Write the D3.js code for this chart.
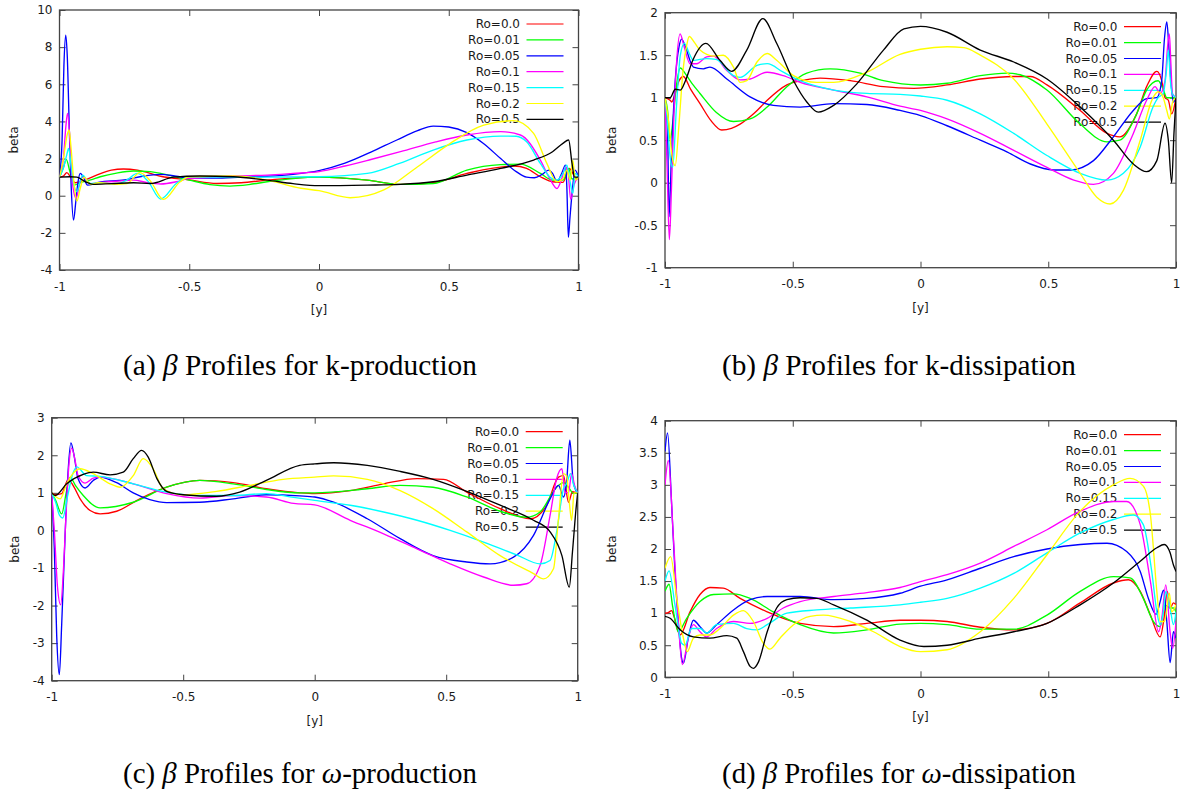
<!DOCTYPE html>
<html><head><meta charset="utf-8">
<script src="https://cdn.jsdelivr.net/npm/d3@7"></script>
<style>
body{margin:0;background:#fff;}
svg{display:block;}
</style></head>
<body>
<svg id="chart" width="1191" height="796"></svg>
<script>
// ---------------- DATA ----------------
const seriesLabels = ["Ro=0.0","Ro=0.01","Ro=0.05","Ro=0.1","Ro=0.15","Ro=0.2","Ro=0.5"];
const xTicks = [-1,-0.5,0,0.5,1];
const kProdYTicks = [-4,-2,0,2,4,6,8,10];
const kDissYTicks = [-1,-0.5,0,0.5,1,1.5,2];
const wProdYTicks = [-4,-3,-2,-1,0,1,2,3];
const wDissYTicks = [0,0.5,1,1.5,2,2.5,3,3.5,4];

// (a) k-production
const kProdRo00 = [[-1,1],[-0.985,1.05],[-0.972,1.24],[-0.957,1.0],[-0.94,0.7],[-0.9,0.85],[-0.85,1.15],[-0.8,1.38],[-0.754,1.44],[-0.7,1.38],[-0.61,1.05],[-0.5,0.85],[-0.394,0.66],[-0.3,0.7],[-0.2,0.84],[-0.1,0.95],[0,1.0],[0.186,0.84],[0.314,0.61],[0.44,0.7],[0.57,1.2],[0.75,1.6],[0.8,1.47],[0.853,1.02],[0.9,0.75],[0.94,0.72],[0.965,1.47],[0.978,1.2],[0.99,0.9],[1,1.0]];
const kProdRo01 = [[-1,1],[-0.985,1.5],[-0.974,1.96],[-0.96,1.3],[-0.944,0.57],[-0.92,0.7],[-0.88,0.85],[-0.843,1.02],[-0.78,1.22],[-0.715,1.33],[-0.65,1.3],[-0.61,1.2],[-0.5,0.84],[-0.42,0.6],[-0.343,0.52],[-0.27,0.6],[-0.2,0.75],[-0.1,0.92],[0,1.0],[0.186,0.84],[0.314,0.61],[0.44,0.66],[0.57,1.38],[0.7,1.67],[0.776,1.7],[0.853,1.2],[0.9,0.84],[0.94,0.84],[0.962,1.47],[0.975,0.9],[1,1]];
const kProdRo05 = [[-1,1],[-0.99,3.0],[-0.983,7.0],[-0.976,8.65],[-0.97,7.5],[-0.962,3.5],[-0.955,0.5],[-0.946,-1.31],[-0.937,-0.3],[-0.928,0.8],[-0.92,1.2],[-0.91,1.05],[-0.892,0.57],[-0.87,0.62],[-0.85,0.72],[-0.75,0.85],[-0.68,1.05],[-0.61,1.15],[-0.55,1.05],[-0.5,0.95],[-0.4,0.95],[-0.3,1.0],[-0.2,1.05],[-0.1,1.15],[0,1.35],[0.1,1.75],[0.2,2.35],[0.3,3.0],[0.38,3.5],[0.44,3.75],[0.5,3.7],[0.57,3.4],[0.635,2.8],[0.7,2.0],[0.76,1.3],[0.8,1.0],[0.83,0.97],[0.86,1.15],[0.885,1.38],[0.9,1.2],[0.917,0.75],[0.935,1.2],[0.95,1.65],[0.955,0.5],[0.961,-2.24],[0.967,-1.2],[0.974,-0.05],[0.987,1.38],[1,1]];
const kProdRo10 = [[-1,1],[-0.985,2.0],[-0.975,3.8],[-0.969,4.43],[-0.962,3.5],[-0.955,1.5],[-0.945,0.2],[-0.936,-0.14],[-0.925,0.5],[-0.914,1.0],[-0.9,0.9],[-0.88,0.65],[-0.85,0.7],[-0.78,0.78],[-0.715,0.84],[-0.66,0.7],[-0.61,0.63],[-0.55,0.75],[-0.5,0.93],[-0.4,1.0],[-0.33,1.06],[-0.2,1.11],[-0.1,1.2],[0,1.3],[0.1,1.6],[0.2,1.95],[0.314,2.37],[0.45,2.9],[0.57,3.27],[0.7,3.45],[0.776,3.27],[0.853,1.92],[0.89,0.9],[0.917,0.39],[0.935,0.9],[0.95,1.56],[0.96,1.2],[0.97,-0.2],[0.983,0.6],[1,1]];
const kProdRo15 = [[-1,1],[-0.985,1.5],[-0.972,2.2],[-0.965,2.55],[-0.955,1.6],[-0.945,0.6],[-0.933,0.22],[-0.92,0.8],[-0.91,1.1],[-0.895,0.85],[-0.88,0.65],[-0.85,0.7],[-0.78,0.63],[-0.74,0.85],[-0.7,1.2],[-0.66,0.8],[-0.61,-0.18],[-0.55,0.66],[-0.5,1.02],[-0.4,1.0],[-0.2,1.0],[0,1.02],[0.186,1.2],[0.31,1.74],[0.44,2.46],[0.57,3.0],[0.7,3.21],[0.76,3.2],[0.8,2.9],[0.853,1.74],[0.89,1.0],[0.917,0.84],[0.94,1.2],[0.955,1.65],[0.967,0.8],[0.978,0.13],[0.987,1.2],[1,1]];
const kProdRo20 = [[-1,1],[-0.985,2.0],[-0.97,3.3],[-0.963,3.54],[-0.955,2.5],[-0.945,0.8],[-0.933,-0.29],[-0.92,0.4],[-0.905,1.0],[-0.89,0.75],[-0.88,0.6],[-0.85,0.7],[-0.78,0.62],[-0.74,0.66],[-0.69,1.24],[-0.65,0.8],[-0.6,-0.2],[-0.535,0.75],[-0.5,1.02],[-0.33,1.06],[-0.2,0.84],[-0.07,0.4],[0,0.27],[0.12,-0.11],[0.25,0.31],[0.38,1.56],[0.506,2.82],[0.635,3.8],[0.75,4.04],[0.827,3.36],[0.878,1.74],[0.917,0.75],[0.94,0.9],[0.955,1.38],[0.968,0.84],[0.978,1.92],[0.988,0.84],[1,1]];
const kProdRo50 = [[-1,1],[-0.96,1.02],[-0.933,1.0],[-0.9,0.75],[-0.87,0.61],[-0.8,0.65],[-0.715,0.7],[-0.65,0.66],[-0.56,1.0],[-0.46,1.06],[-0.33,1.02],[-0.2,0.84],[-0.1,0.65],[0,0.54],[0.186,0.57],[0.314,0.61],[0.44,0.75],[0.57,1.11],[0.7,1.47],[0.827,1.92],[0.9,2.37],[0.94,2.82],[0.962,3.0],[0.975,1.74],[0.985,1.0],[1,1]];

// (b) k-dissipation
const kDissRo00 = [[-1,1],[-0.98,0.97],[-0.974,0.95],[-0.96,1.05],[-0.945,1.2],[-0.928,1.25],[-0.9,1.1],[-0.863,0.93],[-0.82,0.73],[-0.778,0.62],[-0.74,0.64],[-0.706,0.69],[-0.65,0.82],[-0.6,0.97],[-0.523,1.15],[-0.45,1.21],[-0.393,1.23],[-0.275,1.2],[-0.145,1.13],[-0.026,1.11],[0.104,1.15],[0.234,1.22],[0.365,1.25],[0.43,1.25],[0.495,1.15],[0.625,0.85],[0.73,0.58],[0.78,0.54],[0.846,0.81],[0.885,1.13],[0.925,1.31],[0.944,1.2],[0.957,1.0],[0.97,0.97],[0.983,0.81],[1,1]];
const kDissRo01 = [[-1,1],[-0.99,0.85],[-0.98,0.5],[-0.97,0.7],[-0.955,1.15],[-0.94,1.35],[-0.92,1.28],[-0.89,1.15],[-0.863,1.05],[-0.8,0.83],[-0.732,0.72],[-0.667,0.75],[-0.6,0.89],[-0.523,1.13],[-0.445,1.29],[-0.354,1.34],[-0.236,1.29],[-0.145,1.2],[0,1.15],[0.104,1.17],[0.234,1.26],[0.34,1.29],[0.39,1.27],[0.495,1.09],[0.625,0.69],[0.73,0.48],[0.78,0.5],[0.846,0.81],[0.885,1.09],[0.93,1.2],[0.95,1.1],[0.964,1.0],[0.983,1.0],[1,1]];
const kDissRo05 = [[-1,1],[-0.99,0.6],[-0.984,-0.4],[-0.975,0.3],[-0.96,1.2],[-0.945,1.6],[-0.935,1.69],[-0.92,1.6],[-0.9,1.42],[-0.889,1.36],[-0.85,1.34],[-0.824,1.36],[-0.758,1.22],[-0.667,1.01],[-0.576,0.91],[-0.471,0.89],[-0.34,0.93],[-0.21,0.92],[-0.08,0.85],[0,0.79],[0.104,0.67],[0.234,0.5],[0.34,0.36],[0.43,0.22],[0.52,0.15],[0.586,0.15],[0.677,0.26],[0.755,0.54],[0.833,0.85],[0.885,0.99],[0.925,1.0],[0.944,1.2],[0.955,1.7],[0.964,1.89],[0.972,1.6],[0.98,1.2],[0.99,0.95],[1,1]];
const kDissRo10 = [[-1,1],[-0.992,0.2],[-0.983,-0.67],[-0.975,-0.1],[-0.965,0.8],[-0.955,1.4],[-0.941,1.75],[-0.925,1.6],[-0.902,1.4],[-0.876,1.4],[-0.837,1.48],[-0.81,1.49],[-0.758,1.32],[-0.706,1.21],[-0.667,1.22],[-0.6,1.3],[-0.537,1.26],[-0.471,1.18],[-0.34,1.09],[-0.21,1.01],[-0.08,0.9],[0,0.85],[0.104,0.75],[0.234,0.58],[0.365,0.38],[0.495,0.18],[0.6,0.03],[0.677,-0.02],[0.755,0.11],[0.833,0.58],[0.885,0.97],[0.918,1.13],[0.938,1.05],[0.957,1.2],[0.967,1.6],[0.974,1.75],[0.98,1.4],[0.986,1.05],[1,1]];
const kDissRo15 = [[-1,1],[-0.99,0.7],[-0.98,0.3],[-0.97,0.18],[-0.955,0.9],[-0.94,1.5],[-0.924,1.64],[-0.905,1.52],[-0.889,1.44],[-0.837,1.46],[-0.8,1.45],[-0.732,1.26],[-0.706,1.24],[-0.64,1.38],[-0.6,1.4],[-0.537,1.3],[-0.471,1.2],[-0.34,1.09],[-0.21,1.05],[-0.08,1.04],[0,1.02],[0.104,0.97],[0.234,0.81],[0.365,0.58],[0.495,0.32],[0.625,0.11],[0.73,0.03],[0.794,0.11],[0.86,0.42],[0.91,0.89],[0.93,1.0],[0.95,1.05],[0.962,1.3],[0.97,1.56],[0.978,1.2],[0.985,1.05],[1,1]];
const kDissRo20 = [[-1,1],[-0.985,0.7],[-0.972,0.3],[-0.96,0.2],[-0.945,0.7],[-0.93,1.3],[-0.915,1.62],[-0.905,1.72],[-0.885,1.65],[-0.863,1.56],[-0.81,1.49],[-0.772,1.5],[-0.732,1.36],[-0.706,1.18],[-0.68,1.2],[-0.64,1.42],[-0.6,1.52],[-0.563,1.44],[-0.497,1.26],[-0.406,1.18],[-0.34,1.18],[-0.21,1.3],[-0.08,1.51],[0,1.57],[0.104,1.6],[0.17,1.59],[0.234,1.5],[0.365,1.22],[0.495,0.69],[0.625,0.11],[0.69,-0.17],[0.742,-0.25],[0.794,-0.09],[0.86,0.5],[0.91,1.0],[0.93,1.07],[0.95,1.0],[0.964,0.85],[0.974,0.75],[0.987,0.95],[1,1]];
const kDissRo50 = [[-1,1],[-0.98,1.0],[-0.96,1.1],[-0.94,1.09],[-0.92,1.2],[-0.89,1.45],[-0.84,1.64],[-0.785,1.44],[-0.739,1.31],[-0.68,1.56],[-0.617,1.93],[-0.563,1.64],[-0.497,1.2],[-0.445,0.95],[-0.4,0.83],[-0.34,0.91],[-0.25,1.16],[-0.145,1.56],[-0.065,1.81],[0,1.84],[0.104,1.77],[0.234,1.56],[0.365,1.42],[0.495,1.22],[0.625,0.89],[0.755,0.5],[0.833,0.22],[0.885,0.13],[0.925,0.26],[0.957,0.7],[0.97,0.5],[0.983,0.0],[0.992,0.58],[1,1]];

// (c) omega-production
const wProdRo00 = [[-1,1],[-0.987,0.95],[-0.962,0.98],[-0.937,1.36],[-0.915,1.15],[-0.892,0.84],[-0.854,0.53],[-0.816,0.44],[-0.753,0.51],[-0.665,0.84],[-0.563,1.15],[-0.437,1.33],[-0.31,1.27],[-0.184,1.11],[-0.057,1.0],[0,0.98],[0.135,1.06],[0.262,1.24],[0.389,1.38],[0.49,1.36],[0.578,1.02],[0.705,0.58],[0.82,0.31],[0.882,0.67],[0.927,1.42],[0.946,1.46],[0.965,0.75],[0.98,1.03],[1,0.98]];
const wProdRo01 = [[-1,1],[-0.985,0.8],[-0.962,0.44],[-0.945,1.0],[-0.93,1.42],[-0.91,1.2],[-0.88,0.93],[-0.816,0.6],[-0.69,0.75],[-0.563,1.15],[-0.437,1.33],[-0.31,1.24],[-0.184,1.09],[-0.057,1.0],[0,1.0],[0.2,1.11],[0.325,1.2],[0.45,1.15],[0.578,0.89],[0.705,0.51],[0.806,0.35],[0.857,0.49],[0.92,1.15],[0.946,1.27],[0.97,1.1],[0.983,0.98],[1,1]];
const wProdRo05 = [[-1,1],[-0.99,-0.5],[-0.981,-2.8],[-0.971,-3.84],[-0.962,-2.5],[-0.95,-0.3],[-0.94,1.3],[-0.927,2.33],[-0.915,2.0],[-0.9,1.38],[-0.873,1.13],[-0.842,1.33],[-0.816,1.42],[-0.753,1.27],[-0.69,1.0],[-0.627,0.82],[-0.563,0.74],[-0.437,0.75],[-0.31,0.84],[-0.184,0.95],[-0.057,0.92],[0,0.89],[0.072,0.75],[0.2,0.31],[0.325,-0.22],[0.45,-0.67],[0.578,-0.84],[0.667,-0.89],[0.756,-0.71],[0.832,-0.13],[0.895,0.84],[0.927,1.2],[0.946,0.89],[0.958,1.3],[0.97,2.4],[0.983,1.29],[1,0.98]];
const wProdRo10 = [[-1,1],[-0.99,0.0],[-0.978,-1.5],[-0.966,-1.98],[-0.955,-1.0],[-0.945,0.5],[-0.935,1.7],[-0.924,2.19],[-0.912,1.9],[-0.9,1.46],[-0.873,1.26],[-0.842,1.39],[-0.816,1.42],[-0.69,1.24],[-0.563,0.98],[-0.437,0.86],[-0.31,0.93],[-0.184,0.89],[-0.08,0.72],[0,0.68],[0.135,0.27],[0.262,-0.09],[0.389,-0.49],[0.515,-0.89],[0.642,-1.24],[0.756,-1.46],[0.806,-1.42],[0.857,-0.93],[0.895,0.4],[0.92,1.38],[0.94,1.64],[0.952,1.02],[0.965,1.0],[0.977,1.51],[0.988,1.2],[1,1]];
const wProdRo15 = [[-1,1],[-0.985,0.75],[-0.97,0.4],[-0.958,0.33],[-0.94,0.9],[-0.92,1.5],[-0.905,1.69],[-0.867,1.46],[-0.816,1.44],[-0.69,1.24],[-0.563,1.02],[-0.437,0.93],[-0.31,0.93],[-0.184,0.98],[-0.08,0.88],[0,0.8],[0.135,0.67],[0.262,0.49],[0.389,0.27],[0.515,0.0],[0.642,-0.31],[0.768,-0.65],[0.857,-0.89],[0.895,-0.8],[0.92,-0.04],[0.946,1.11],[0.958,1.25],[0.973,1.51],[0.985,1.2],[1,1]];
const wProdRo20 = [[-1,1],[-0.985,0.9],[-0.968,0.84],[-0.943,1.24],[-0.915,1.55],[-0.892,1.64],[-0.842,1.51],[-0.778,1.24],[-0.74,1.15],[-0.69,1.46],[-0.652,1.91],[-0.614,1.64],[-0.576,1.11],[-0.5,0.95],[-0.373,1.04],[-0.247,1.2],[-0.12,1.36],[0,1.42],[0.072,1.45],[0.2,1.36],[0.325,1.06],[0.45,0.58],[0.578,-0.04],[0.705,-0.67],[0.832,-1.15],[0.87,-1.29],[0.908,-1.02],[0.927,0.31],[0.946,1.51],[0.958,1.45],[0.968,0.75],[0.977,0.27],[0.986,1.0],[1,1]];
const wProdRo50 = [[-1,1],[-0.987,0.93],[-0.943,1.24],[-0.88,1.49],[-0.842,1.55],[-0.778,1.48],[-0.728,1.55],[-0.69,1.91],[-0.658,2.13],[-0.633,1.95],[-0.6,1.38],[-0.563,1.04],[-0.5,0.95],[-0.373,0.91],[-0.285,1.02],[-0.184,1.33],[-0.057,1.73],[0,1.77],[0.072,1.8],[0.2,1.73],[0.325,1.57],[0.45,1.36],[0.578,1.04],[0.705,0.67],[0.832,0.27],[0.895,-0.04],[0.94,-0.67],[0.968,-1.51],[0.98,-0.58],[0.994,0.6],[1,1]];

// (d) omega-dissipation
const wDissRo00 = [[-1,1],[-0.987,1.01],[-0.974,1.04],[-0.965,0.95],[-0.941,0.66],[-0.902,1.02],[-0.863,1.29],[-0.824,1.4],[-0.772,1.39],[-0.706,1.23],[-0.6,1.02],[-0.471,0.84],[-0.34,0.79],[-0.21,0.84],[-0.08,0.89],[0,0.89],[0.104,0.87],[0.234,0.78],[0.365,0.74],[0.495,0.84],[0.625,1.16],[0.755,1.47],[0.814,1.52],[0.86,1.34],[0.9,0.97],[0.938,0.63],[0.953,0.92],[0.966,1.34],[0.977,1.08],[0.99,1.16],[1,1.13]];
const wDissRo01 = [[-1,1.34],[-0.984,1.45],[-0.97,1.1],[-0.948,0.71],[-0.915,0.92],[-0.863,1.18],[-0.81,1.29],[-0.732,1.3],[-0.667,1.23],[-0.576,1.02],[-0.471,0.82],[-0.34,0.69],[-0.21,0.74],[-0.08,0.83],[0,0.84],[0.104,0.82],[0.234,0.75],[0.365,0.75],[0.495,0.97],[0.625,1.34],[0.755,1.57],[0.82,1.55],[0.872,1.23],[0.911,0.87],[0.938,0.79],[0.957,1.13],[0.977,1.08],[0.99,1.08],[1,1.02]];
const wDissRo05 = [[-1,3.52],[-0.99,3.81],[-0.974,2.69],[-0.961,1.65],[-0.948,0.87],[-0.935,0.3],[-0.928,0.22],[-0.909,0.61],[-0.889,0.89],[-0.863,0.79],[-0.837,0.69],[-0.798,0.82],[-0.732,1.05],[-0.667,1.21],[-0.6,1.26],[-0.471,1.26],[-0.34,1.21],[-0.21,1.23],[-0.08,1.31],[0,1.42],[0.104,1.52],[0.234,1.7],[0.365,1.88],[0.495,2.0],[0.625,2.07],[0.73,2.09],[0.807,1.96],[0.86,1.65],[0.892,1.23],[0.922,0.98],[0.938,1.18],[0.951,1.36],[0.964,0.87],[0.977,0.23],[0.99,0.71],[1,0.61]];
const wDissRo10 = [[-1,3.0],[-0.987,3.38],[-0.967,2.17],[-0.948,0.87],[-0.932,0.2],[-0.909,0.61],[-0.889,0.82],[-0.863,0.71],[-0.837,0.63],[-0.798,0.76],[-0.732,0.87],[-0.667,0.84],[-0.6,0.92],[-0.537,1.08],[-0.471,1.18],[-0.34,1.26],[-0.21,1.32],[-0.08,1.4],[0,1.49],[0.104,1.6],[0.234,1.78],[0.365,2.04],[0.495,2.3],[0.625,2.59],[0.755,2.74],[0.807,2.74],[0.86,2.38],[0.9,1.49],[0.932,0.71],[0.944,0.9],[0.96,1.44],[0.977,0.7],[0.987,0.45],[1,0.87]];
const wDissRo15 = [[-1,1.5],[-0.984,1.66],[-0.961,1.13],[-0.935,0.53],[-0.922,0.5],[-0.896,0.76],[-0.863,0.76],[-0.837,0.69],[-0.798,0.82],[-0.732,0.84],[-0.68,0.76],[-0.64,0.74],[-0.6,0.82],[-0.523,1.0],[-0.406,1.05],[-0.275,1.08],[-0.08,1.13],[0,1.17],[0.104,1.23],[0.234,1.39],[0.365,1.62],[0.495,1.94],[0.625,2.25],[0.755,2.46],[0.833,2.53],[0.872,2.38],[0.905,1.65],[0.925,1.02],[0.938,0.82],[0.95,1.0],[0.96,1.34],[0.977,1.08],[0.99,0.82],[1,1.02]];
const wDissRo20 = [[-1,1.7],[-0.978,1.88],[-0.954,1.23],[-0.928,0.61],[-0.913,0.4],[-0.889,0.61],[-0.863,0.66],[-0.824,0.66],[-0.785,0.76],[-0.732,0.97],[-0.693,1.04],[-0.654,0.87],[-0.615,0.53],[-0.589,0.44],[-0.55,0.61],[-0.497,0.82],[-0.432,0.95],[-0.38,0.97],[-0.275,0.87],[-0.184,0.71],[-0.08,0.48],[0,0.4],[0.104,0.43],[0.234,0.71],[0.365,1.23],[0.495,1.91],[0.625,2.59],[0.755,3.0],[0.82,3.1],[0.872,2.98],[0.9,2.53],[0.925,1.34],[0.938,0.87],[0.955,0.87],[0.974,1.31],[0.983,1.02],[1,1.13]];
const wDissRo50 = [[-1,0.95],[-0.98,0.92],[-0.941,0.74],[-0.889,0.63],[-0.824,0.61],[-0.758,0.65],[-0.719,0.61],[-0.693,0.4],[-0.667,0.17],[-0.654,0.14],[-0.634,0.24],[-0.6,0.71],[-0.563,1.08],[-0.523,1.21],[-0.471,1.24],[-0.406,1.23],[-0.34,1.13],[-0.21,0.89],[-0.08,0.58],[0.013,0.48],[0.104,0.5],[0.234,0.61],[0.365,0.71],[0.495,0.84],[0.625,1.13],[0.755,1.47],[0.86,1.81],[0.925,2.02],[0.954,2.07],[0.977,1.94],[0.99,1.75],[1,1.65]];

// ---------------- LAYOUT / STYLE ----------------
const colors = ["#ff0000","#00ff00","#0000ff","#ff00ff","#00ffff","#ffff00","#000000"];
const sansFont = "'DejaVu Sans', sans-serif";
const serifFont = "'Liberation Serif', 'DejaVu Serif', serif";

const panels = [
  {id:"a", l:59.5, r:578.5, t:10, b:270, y:[-4,10], yTicks:kProdYTicks, yLabX:14,
   series:[kProdRo00,kProdRo01,kProdRo05,kProdRo10,kProdRo15,kProdRo20,kProdRo50],
   cap:["(a) ","β"," Profiles for k-production"], capX:300, capY:375},
  {id:"b", l:665, r:1176, t:12.7, b:267.7, y:[-1,2], yTicks:kDissYTicks, yLabX:612,
   series:[kDissRo00,kDissRo01,kDissRo05,kDissRo10,kDissRo15,kDissRo20,kDissRo50],
   cap:["(b) ","β"," Profiles for k-dissipation"], capX:899, capY:375},
  {id:"c", l:51.7, r:577.7, t:417.7, b:680.7, y:[-4,3], yTicks:wProdYTicks, yLabX:15,
   series:[wProdRo00,wProdRo01,wProdRo05,wProdRo10,wProdRo15,wProdRo20,wProdRo50],
   cap:["(c) ","β"," Profiles for ","ω","-production"], capX:300, capY:783},
  {id:"d", l:665, r:1176, t:420.7, b:677.3, y:[0,4], yTicks:wDissYTicks, yLabX:612,
   series:[wDissRo00,wDissRo01,wDissRo05,wDissRo10,wDissRo15,wDissRo20,wDissRo50],
   cap:["(d) ","β"," Profiles for ","ω","-dissipation"], capX:899, capY:783}
];

const svg = d3.select("#chart");
const defs = svg.append("defs");

panels.forEach(p => {
  const x = d3.scaleLinear().domain([-1,1]).range([p.l,p.r]);
  const y = d3.scaleLinear().domain(p.y).range([p.b,p.t]);
  const g = svg.append("g");

  defs.append("clipPath").attr("id","clip-"+p.id)
    .append("rect").attr("x",p.l).attr("y",p.t).attr("width",p.r-p.l).attr("height",p.b-p.t);

  const styleAxis = sel => {
    sel.select(".domain").remove();
    sel.selectAll(".tick line").attr("stroke","#444").attr("stroke-width",1);
    sel.selectAll(".tick text").attr("fill","#1a1a1a").style("font-family",sansFont).style("font-size","12px");
  };

  g.append("g").attr("transform",`translate(0,${p.b})`)
    .call(d3.axisBottom(x).tickValues(xTicks).tickSizeInner(-6).tickSizeOuter(0).tickPadding(12).tickFormat(d=>String(d)))
    .call(styleAxis);
  g.append("g").attr("transform",`translate(0,${p.t})`)
    .call(d3.axisTop(x).tickValues(xTicks).tickSizeInner(-6).tickSizeOuter(0).tickFormat(""))
    .call(styleAxis);
  g.append("g").attr("transform",`translate(${p.l},0)`)
    .call(d3.axisLeft(y).tickValues(p.yTicks).tickSizeInner(-6).tickSizeOuter(0).tickPadding(7).tickFormat(d=>String(d)))
    .call(styleAxis);
  g.append("g").attr("transform",`translate(${p.r},0)`)
    .call(d3.axisRight(y).tickValues(p.yTicks).tickSizeInner(-6).tickSizeOuter(0).tickFormat(""))
    .call(styleAxis);

  g.append("rect").attr("x",p.l).attr("y",p.t).attr("width",p.r-p.l).attr("height",p.b-p.t)
    .attr("fill","none").attr("stroke","#444").attr("stroke-width",1.3);

  // axis titles
  g.append("text").attr("transform",`translate(${p.yLabX},${(p.t+p.b)/2}) rotate(-90)`)
    .attr("text-anchor","middle").attr("dominant-baseline","central")
    .style("font-family",sansFont).style("font-size","12px").attr("fill","#1a1a1a").text("beta");
  g.append("text").attr("x",(p.l+p.r)/2).attr("y",p.b+40)
    .attr("text-anchor","middle").attr("dominant-baseline","central")
    .style("font-family",sansFont).style("font-size","12px").attr("fill","#1a1a1a").text("[y]");

  // legend
  const lg = g.append("g");
  seriesLabels.forEach((lab,i) => {
    const yy = p.t + 14 + i*15.9;
    lg.append("text").attr("x",p.r-58.5).attr("y",yy).attr("text-anchor","end")
      .attr("dominant-baseline","central").style("font-family",sansFont).style("font-size","12px")
      .attr("fill","#1a1a1a").text(lab);
    lg.append("line").attr("x1",p.r-52).attr("x2",p.r-15).attr("y1",yy).attr("y2",yy)
      .attr("stroke",colors[i]).attr("stroke-width",1.2);
  });

  // curves
  const line = d3.line().x(d=>x(d[0])).y(d=>y(d[1])).curve(d3.curveMonotoneX);
  const cg = g.append("g").attr("clip-path",`url(#clip-${p.id})`);
  p.series.forEach((s,i) => {
    cg.append("path").datum(s).attr("d",line).attr("fill","none")
      .attr("stroke",colors[i]).attr("stroke-width",1.35).attr("stroke-linejoin","round");
  });

  // caption
  const cap = svg.append("text").attr("x",p.capX).attr("y",p.capY).attr("text-anchor","middle")
    .style("font-family",serifFont).style("font-size","22px").attr("fill","#000");
  p.cap.forEach(part => {
    const ts = cap.append("tspan").text(part);
    if (part==="β" || part==="ω") ts.style("font-style","italic");
  });
  const w = cap.node().getComputedTextLength();
  if (w>0) cap.style("font-size",(22*354/w).toFixed(2)+"px");
});
</script>
</body></html>
